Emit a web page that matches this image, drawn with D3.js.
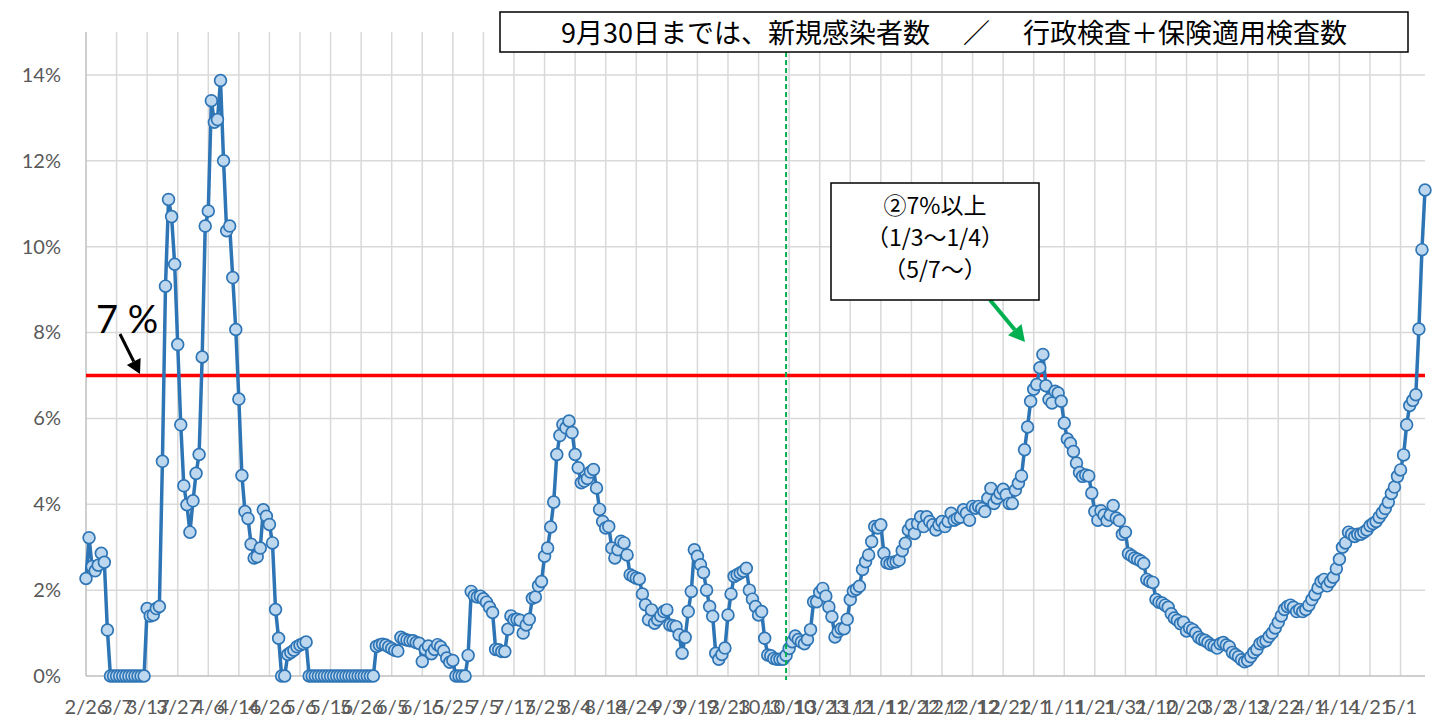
<!DOCTYPE html>
<html>
<head>
<meta charset="utf-8">
<script src="https://cdn.jsdelivr.net/npm/d3@7"></script>
<style>
  body { margin: 0; background: #fff; }
  text { font-family: Lato, 'Liberation Sans', sans-serif; }
  .jp { font-family: 'Noto Sans CJK JP', sans-serif; }
</style>
</head>
<body>
<script>
// daily positivity rate (%), from 2/26
const rate = [
  2.27, 3.22, 2.55, 2.45, 2.58, 2.86, 2.65, 1.07,
  0, 0, 0, 0, 0, 0, 0, 0, 0, 0, 0, 0,
  1.57, 1.40, 1.42, 1.57, 1.62,
  5.00, 9.08, 11.10, 10.70, 9.59, 7.72, 5.85, 4.43, 3.99, 3.35, 4.08, 4.72, 5.16, 7.43, 10.48, 10.83, 13.40, 12.90, 12.96, 13.87,
  12.00, 10.37, 10.48, 9.28, 8.07, 6.45, 4.67, 3.83, 3.67, 3.07, 2.75, 2.78, 2.98, 3.87, 3.72, 3.53, 3.10, 1.55, 0.88,
  0, 0,
  0.50, 0.55, 0.60, 0.68, 0.72, 0.75, 0.79,
  0, 0, 0, 0, 0, 0, 0, 0, 0, 0, 0, 0, 0, 0, 0, 0, 0, 0, 0, 0, 0, 0,
  0.69, 0.72, 0.74, 0.72, 0.68, 0.64, 0.60, 0.58, 0.90, 0.86, 0.84, 0.82, 0.82, 0.78, 0.76, 0.34,
  0.62, 0.70, 0.52, 0.62, 0.73, 0.68, 0.58, 0.42, 0.32, 0.36, 0, 0, 0, 0, 0.48,
  1.97, 1.87, 1.84, 1.86, 1.80, 1.72, 1.60, 1.48, 0.62, 0.61, 0.57, 0.57, 1.09, 1.40, 1.31, 1.32, 1.30, 1.00, 1.19, 1.32,
  1.81, 1.84, 2.10, 2.20, 2.79, 2.98, 3.47, 4.05, 5.16, 5.60, 5.86, 5.78, 5.94, 5.67, 5.16, 4.85, 4.50, 4.54, 4.60, 4.75, 4.81, 4.38, 3.88,
  3.60, 3.45, 3.48, 2.98, 2.75, 2.94, 3.14, 3.10, 2.82, 2.36, 2.32, 2.28, 2.26, 1.91, 1.66, 1.31, 1.54, 1.23, 1.31, 1.40,
  1.50, 1.54, 1.19, 1.17, 1.15, 0.96, 0.53, 0.90, 1.50, 1.97, 2.94, 2.79, 2.59, 2.41, 2.00, 1.62, 1.39,
  0.53, 0.39, 0.50, 0.65, 1.42, 1.91, 2.32, 2.36, 2.40, 2.44, 2.51, 2.00, 1.79, 1.62, 1.42, 1.50, 0.88, 0.49, 0.47, 0.41, 0.39, 0.39, 0.39,
  0.48, 0.64, 0.80, 0.93, 0.85, 0.79, 0.75, 0.85, 1.08, 1.73, 1.73, 1.95, 2.04, 1.86, 1.61, 1.38, 0.91, 1.03, 1.10, 1.10,
  1.32, 1.78, 1.98, 2.02, 2.09, 2.48, 2.66, 2.82, 3.13, 3.48, 3.45, 3.52, 2.86, 2.64, 2.62, 2.65, 2.66, 2.70, 2.92, 3.09,
  3.40, 3.52, 3.32, 3.55, 3.71, 3.48, 3.71, 3.60, 3.52, 3.40, 3.52, 3.60, 3.48, 3.60, 3.79, 3.63, 3.67, 3.70, 3.87, 3.79,
  3.63, 3.95, 3.91, 3.95, 3.90, 3.83, 4.14, 4.37, 4.02, 4.14, 4.26, 4.35, 4.22, 4.02, 4.02, 4.33, 4.49, 4.66, 5.27, 5.80,
  6.40, 6.68, 6.79, 7.18, 7.49, 6.76, 6.44, 6.36, 6.63, 6.59, 6.40, 5.89, 5.52, 5.42, 5.23, 4.96, 4.74, 4.65, 4.68, 4.66,
  4.26, 3.83, 3.63, 3.85, 3.75,
  3.62, 3.75, 3.97, 3.68, 3.62, 3.30, 3.35, 2.85, 2.80, 2.75, 2.72, 2.68, 2.62, 2.25, 2.20, 2.18, 1.78, 1.72, 1.70, 1.65,
  1.60, 1.45, 1.35, 1.30, 1.22, 1.25, 1.05, 1.12, 1.08, 1.00, 0.90, 0.85, 0.83, 0.78, 0.72, 0.70, 0.65, 0.75, 0.78, 0.72,
  0.68, 0.55, 0.50, 0.45, 0.38, 0.33, 0.36, 0.45, 0.55, 0.62, 0.75, 0.80, 0.82, 0.92, 1.00, 1.12, 1.25, 1.40, 1.55, 1.62,
  1.65, 1.60, 1.50, 1.55, 1.50, 1.55, 1.65, 1.78, 1.90, 2.05, 2.20, 2.25, 2.10, 2.20, 2.30, 2.50,
  2.72, 3.00, 3.10, 3.35, 3.30, 3.25, 3.30, 3.30, 3.35, 3.40, 3.50, 3.55, 3.60, 3.70, 3.80, 3.90, 4.05, 4.25, 4.40, 4.65,
  4.80, 5.15, 5.85, 6.30, 6.42, 6.55, 8.08, 9.93, 11.32
];

// one label every 10 days
const tickLabels = ['2/26', '3/7', '3/17', '3/27', '4/6', '4/16', '4/26', '5/6', '5/16', '5/26',
  '6/5', '6/15', '6/25', '7/5', '7/15', '7/25', '8/4', '8/14', '8/24', '9/3', '9/13', '9/23',
  '10/3', '10/13', '10/23', '11/2', '11/12', '11/22', '12/2', '12/12', '12/22', '1/1', '1/11',
  '1/21', '1/31', '2/10', '2/20', '3/2', '3/12', '3/22', '4/1', '4/11', '4/21', '5/1'];
const tickStep = 10;
const yTicks = [0, 2, 4, 6, 8, 10, 12, 14];
const threshold = 7;
const boundaryIndex = 229; // 9/30 switch of definition
const titleText = '9月30日までは、新規感染者数　 ／　 行政検査＋保険適用検査数';
const noteLines = ['②7%以上', '（1/3～1/4）', '（5/7～）'];

const W = 1436, H = 725;
const plotL = 86, plotR = 1425, plotT = 32, plotB = 676;

const svg = d3.select('body').append('svg')
  .attr('width', W)
  .attr('height', H)
  .style('background', '#fff');

const x = d3.scaleLinear().domain([0, rate.length - 1]).range([plotL, plotR]);
const y = d3.scaleLinear().domain([0, 15]).range([plotB, plotT]);

const tickIdx = tickLabels.map((d, i) => i * tickStep);

// grid
svg.append('g').selectAll('line')
  .data(yTicks.filter(d => d > 0))
  .join('line')
  .attr('x1', plotL).attr('x2', plotR)
  .attr('y1', d => y(d)).attr('y2', d => y(d))
  .style('stroke', '#d9d9d9').style('stroke-width', 1.5);

svg.append('g').selectAll('line')
  .data(tickIdx.filter(d => d > 0))
  .join('line')
  .attr('x1', d => x(d)).attr('x2', d => x(d))
  .attr('y1', plotT).attr('y2', plotB)
  .style('stroke', '#d9d9d9').style('stroke-width', 1.5);

// axis lines
svg.append('line')
  .attr('x1', plotL).attr('x2', plotL).attr('y1', plotT).attr('y2', plotB)
  .style('stroke', '#bfbfbf').style('stroke-width', 1.5);
svg.append('line')
  .attr('x1', plotL).attr('x2', plotR).attr('y1', plotB).attr('y2', plotB)
  .style('stroke', '#bfbfbf').style('stroke-width', 1.5);

// y labels
const yAxis = svg.append('g')
  .attr('transform', `translate(${plotL - 22},0)`)
  .call(d3.axisLeft(y).tickValues(yTicks).tickSize(0).tickFormat(d => d + '%'));
yAxis.select('.domain').remove();
yAxis.selectAll('text')
  .style('font-family', 'Lato, sans-serif')
  .style('font-size', '20px')
  .style('fill', '#595959');

// x labels (they overlap in the original too)
const xAxis = svg.append('g')
  .attr('transform', `translate(0,${plotB + 21})`)
  .call(d3.axisBottom(x).tickValues(tickIdx).tickSize(0).tickFormat((d, i) => tickLabels[i]));
xAxis.select('.domain').remove();
xAxis.selectAll('text')
  .style('font-family', 'Lato, sans-serif')
  .style('font-size', '20px')
  .style('fill', '#595959');

// 7% line
svg.append('line')
  .attr('x1', plotL).attr('x2', plotR)
  .attr('y1', y(threshold)).attr('y2', y(threshold))
  .style('stroke', '#ff0000').style('stroke-width', 3.5);

// series
const line = d3.line().x((d, i) => x(i)).y(d => y(d));
svg.append('path')
  .datum(rate)
  .attr('d', line)
  .style('fill', 'none')
  .style('stroke', '#2e75b6')
  .style('stroke-width', 3.5)
  .style('stroke-linejoin', 'round');

svg.append('g').selectAll('circle')
  .data(rate)
  .join('circle')
  .attr('cx', (d, i) => x(i))
  .attr('cy', d => y(d))
  .attr('r', 5.9)
  .style('fill', '#bdd7ee')
  .style('stroke', '#2e75b6')
  .style('stroke-width', 1.7);

// 9/30 boundary
svg.append('line')
  .attr('x1', x(boundaryIndex)).attr('x2', x(boundaryIndex))
  .attr('y1', 52).attr('y2', plotB + 4)
  .style('stroke', '#00b050')
  .style('stroke-width', 2)
  .style('stroke-dasharray', '5,3');

// arrows
function arrow(x1, y1, x2, y2, color, w, head) {
  const a = Math.atan2(y2 - y1, x2 - x1);
  const bx = x2 - head * Math.cos(a), by = y2 - head * Math.sin(a);
  svg.append('line')
    .attr('x1', x1).attr('y1', y1).attr('x2', bx).attr('y2', by)
    .style('stroke', color).style('stroke-width', w);
  const hw = head * 0.55;
  svg.append('polygon')
    .attr('points', [
      [x2, y2],
      [bx + hw * Math.sin(a), by - hw * Math.cos(a)],
      [bx - hw * Math.sin(a), by + hw * Math.cos(a)]
    ].map(p => p.join(',')).join(' '))
    .style('fill', color);
}

svg.append('text')
  .attr('x', 96).attr('y', 333)
  .style('font-family', 'Lato, sans-serif')
  .style('font-size', '38px')
  .style('fill', '#000')
  .text('7 %');
arrow(120, 334, 140, 374, '#000', 3, 14);

// title box
svg.append('rect')
  .attr('x', 500).attr('y', 12).attr('width', 908).attr('height', 40)
  .style('fill', '#fff').style('stroke', '#000').style('stroke-width', 1.5);
svg.append('text')
  .attr('class', 'jp')
  .attr('x', 954).attr('y', 43)
  .attr('text-anchor', 'middle')
  .style('font-size', '27px')
  .style('fill', '#000')
  .text(titleText);

// note box
arrow(990, 300, 1025, 342, '#00b050', 4, 16);
svg.append('rect')
  .attr('x', 831).attr('y', 183).attr('width', 208).attr('height', 117)
  .style('fill', '#fff').style('stroke', '#000').style('stroke-width', 1.5);
svg.append('g').selectAll('text')
  .data(noteLines)
  .join('text')
  .attr('class', 'jp')
  .attr('x', 935)
  .attr('y', (d, i) => 214 + i * 32)
  .attr('text-anchor', 'middle')
  .style('font-size', '23px')
  .style('fill', '#000')
  .text(d => d);
</script>
</body>
</html>
